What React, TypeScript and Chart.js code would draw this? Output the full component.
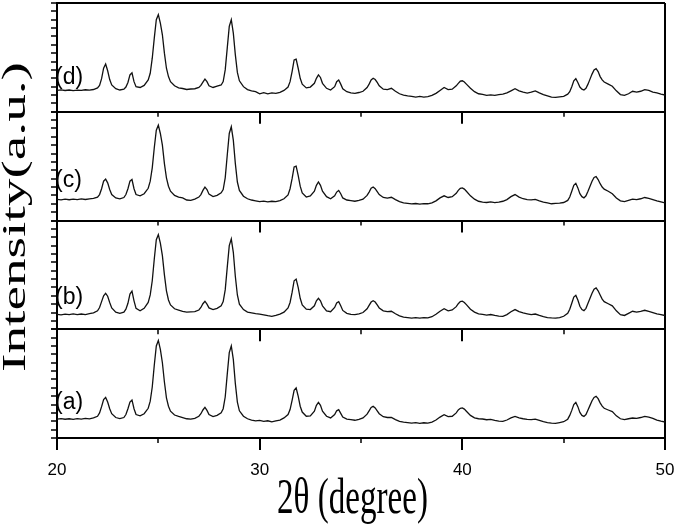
import { useEffect, useRef } from 'react';
import { Chart, registerables } from 'chart.js';

Chart.register(...registerables);

// 2θ sampling positions (degrees), shared by the four patterns
const twoTheta = [
  20.0, 20.2, 20.4, 20.6, 20.8, 21.0, 21.2, 21.4, 21.6, 21.8,
  22.0, 22.1, 22.2, 22.3, 22.4, 22.5, 22.6, 22.7, 22.9,
  23.1, 23.3, 23.4, 23.5, 23.6, 23.7, 23.8, 23.9, 24.1,
  24.3, 24.5, 24.6, 24.7, 24.8, 24.9, 25.0, 25.1, 25.2, 25.3, 25.4, 25.5, 25.6, 25.8,
  26.0, 26.2, 26.4, 26.6, 26.8, 27.0, 27.1, 27.2, 27.3, 27.4, 27.5, 27.7, 27.9,
  28.1, 28.2, 28.3, 28.4, 28.5, 28.6, 28.7, 28.8, 28.9, 29.0, 29.2, 29.4,
  29.6, 29.8, 30.0, 30.2, 30.4, 30.6, 30.8, 31.0, 31.2, 31.4,
  31.5, 31.6, 31.7, 31.8, 31.9, 32.0, 32.1, 32.3, 32.5, 32.7,
  32.8, 32.9, 33.0, 33.1, 33.3, 33.5, 33.7, 33.8, 33.9, 34.0, 34.1, 34.3,
  34.5, 34.7, 34.9, 35.1, 35.3, 35.4, 35.5, 35.6, 35.7, 35.8, 35.9, 36.1, 36.3, 36.5, 36.7, 36.9,
  37.1, 37.3, 37.5, 37.7, 37.9, 38.1, 38.3, 38.5, 38.7, 38.9, 39.1, 39.3, 39.5,
  39.7, 39.8, 39.9, 40.0, 40.1, 40.2, 40.4, 40.6, 40.8, 41.0, 41.2, 41.4, 41.6, 41.8, 42.0,
  42.2, 42.4, 42.6, 42.8, 43.0, 43.2, 43.4, 43.6, 43.8, 44.0, 44.2, 44.4, 44.6, 44.8, 45.0, 45.2,
  45.3, 45.4, 45.5, 45.6, 45.7, 45.8, 45.9, 46.0, 46.1, 46.2, 46.3, 46.4, 46.5, 46.6, 46.7, 46.8, 46.9, 47.0, 47.2, 47.4, 47.6,
  47.8, 48.0, 48.2, 48.4, 48.6, 48.8, 49.0, 49.2, 49.4, 49.6, 49.8, 50.0,
];

// Intensities (a.u., each panel on its own 0–130 scale)
const patternA = [
  22.5, 23.2, 22.4, 23.0, 22.2, 23.1, 22.6, 23.4, 22.8, 24,
  26, 30, 37.5, 46, 48.5, 43, 35, 29, 24.5,
  23.2, 24.5, 28, 35, 43, 45.5, 35, 28, 26.5,
  29, 35.5, 44, 61, 87, 110, 116.6, 106, 90, 67, 48, 38, 32, 27.5,
  25.8, 24.5, 23, 22.5, 23.5, 26, 29, 33.5, 36.6, 33, 28, 25.5, 27,
  30, 35, 49, 76, 102, 110, 94, 65, 43, 32.5, 26, 23,
  21.5, 20.5, 21, 19.8, 20.6, 19.2, 20.5, 21.5, 24, 28,
  34, 45, 57, 59.8, 50, 38, 31, 26, 26.5, 32,
  39, 42.5, 39, 32, 26, 24, 28, 32.5, 33.8, 29.5, 25, 22.5,
  21.9, 21.2, 22.3, 24, 28.5, 32.5, 36.5, 37.8, 36, 32.5, 29, 25.5, 24.5, 24.6, 22, 20,
  19, 18.5, 17.9, 18.4, 17.5, 18.2, 17.8, 19, 21.5, 25, 27.8, 25.5, 26,
  30, 33.5, 35.5, 35.9, 34.5, 32, 27, 24, 23, 22.7, 21.8, 22.3, 21, 20.2, 19.9,
  21.5, 24, 25.8, 24, 23, 22.2, 21.9, 22.5, 21, 19.5, 18.5, 17.9, 17.6, 18.5, 19.5, 22.5,
  27, 33, 40, 42.5, 37.5, 30.5, 27, 25.8, 28, 33.5, 39, 44.5, 48.5, 49.7, 47, 42, 38, 35.5, 33.5, 31.5, 26.5,
  23, 21.9, 23, 23.9, 23.5, 24.5, 25.8, 25, 23.5, 21.5, 20.2, 19.1,
];

const patternB = [
  17.8, 17.2, 18.0, 17.4, 18.3, 17.6, 18.2, 17.5, 18.6, 19.5,
  22, 26, 33, 40, 43, 39.5, 32, 25.5, 20.5,
  19, 20.5, 24, 31, 42, 45.5, 34, 25, 22,
  25, 32, 41, 58, 84, 107, 113, 103, 88, 65, 46, 35, 29, 24.5,
  23, 21.5, 20.5, 20.8, 21, 23, 26, 30.5, 33.5, 30, 25.5, 23.5, 25,
  28, 33, 47, 74, 100, 108, 92, 63, 41, 30, 23.5, 20.5,
  19.5, 18.6, 18, 17.2, 16.2, 15.5, 16.5, 18, 20.5, 25.5,
  32, 44, 58, 60, 50, 37, 29, 24, 23.5, 28,
  34, 37, 34, 28, 22, 21, 26, 31.5, 33, 28, 22.5, 19,
  17.8, 17.5, 18.5, 20, 24.5, 28.5, 32.5, 34, 32.5, 29, 25.5, 22, 21, 21.5, 18.5, 16,
  14.5, 14, 13.2, 13.8, 13.3, 14, 13.6, 15, 18, 21.5, 24.5, 22, 23,
  27, 30.5, 33, 33.5, 32, 29.5, 24, 20.5, 18.5, 17.8, 17, 17.6, 16.5, 15.8, 15.5,
  17.5, 21, 23.5, 21, 19.5, 18.5, 17.6, 18.2, 16.5, 15, 14, 13.5, 13.2, 14, 15.5, 19,
  24, 31, 38.5, 40.5, 35, 27.5, 23.5, 22.3, 25, 31, 37, 43, 48, 49.4, 46, 41, 36, 33, 30.5, 28, 22,
  17.5, 16.5, 19, 21.5, 20.5, 21.5, 22.7, 21.5, 20, 18.5, 17.5, 16.4,
];

const patternC = [
  25.2, 24.6, 25.5, 24.8, 25.6, 24.9, 25.8, 25.1, 25.9, 26.5,
  28, 31, 38, 47, 49.5, 45, 37, 31, 27,
  25.8, 27.5, 31, 38, 47, 49, 38, 31, 29.5,
  32, 38.5, 47, 63, 87, 108, 114, 104, 90, 68, 51, 41, 35, 30,
  28, 27, 24.5, 24, 25.5, 28, 31, 36, 40, 37, 31.5, 28.5, 30,
  33, 37, 51, 78, 104, 112, 96, 68, 46, 36, 29, 26,
  24.5, 23.5, 22.5, 23.2, 22.2, 23, 22.5, 23.8, 26, 30.5,
  38, 50, 64, 65, 54, 41, 33, 28, 29.5, 35,
  42, 46, 42, 35, 28.5, 26, 29.5, 34, 36, 32, 27, 24.5,
  23.8, 23, 24, 25.5, 30, 34, 38.5, 40, 38, 34.5, 31, 27.5, 26.8, 27.8, 25, 22.5,
  21, 20.5, 19.8, 20.3, 19.5, 20.2, 20, 21, 23.5, 27, 29.5, 27.5, 28.5,
  32.5, 36, 38.5, 39, 37.5, 35, 29.5, 25.5, 23, 22, 21.5, 22.2, 21.4, 22, 23,
  25, 28.5, 31, 28, 26, 25, 24.6, 25.2, 23.5, 22, 21, 20, 20.4, 20.8, 21.5, 24,
  28, 35, 42, 44.5, 39, 32, 28.5, 27, 29.5, 35, 41, 47, 51.5, 52.5, 49, 44, 40, 37.5, 35, 32, 27,
  23.5, 22.5, 24, 25.5, 25, 26, 27.5, 26.5, 25, 23.5, 22.2, 21,
];

const patternD = [
  25.5, 26.2, 25.4, 26.0, 25.3, 25.9, 25.6, 26.3, 25.8, 26.6,
  28.5, 31.5, 39.5, 52, 57, 49, 38.5, 32, 27.5,
  26.0, 27.0, 29.5, 35, 44, 46.5, 36, 30, 29,
  31.5, 38, 46, 64, 88, 110, 116, 106, 92, 70, 52, 42, 36, 31,
  28.5, 27.8, 26.6, 27.2, 27.5, 29, 31.5, 35.5, 39, 36, 31, 29, 30.5,
  32, 36, 50, 76, 102, 110, 94, 68, 47, 37, 30, 26.5,
  25, 24, 21.5, 22.8, 21.5, 22.6, 22.0, 23.2, 25.5, 29.5,
  36, 48, 62, 63, 52, 40, 33, 28.5, 29.5, 34,
  40, 44, 41, 34, 28, 26, 30, 36, 38, 33, 27.5, 24,
  22.5, 22, 23, 24.5, 29, 33, 38, 40, 38.5, 35, 31, 27, 26.5, 28, 24.5, 21.5,
  20, 19, 18.5, 17.6, 18.3, 17.5, 18.2, 19.5, 22, 25.5, 29, 26.5, 27,
  31, 34, 36.5, 37, 35.5, 33, 28, 24, 21.5, 20.8, 19.5, 20.2, 19.6, 20.5, 21,
  22.5, 25, 27.5, 25, 23.5, 22.4, 23.5, 25, 22.5, 20.5, 19, 17.5, 17.2, 17.8, 18.5, 21,
  24, 30, 37, 39.5, 35, 29.5, 27, 26, 28, 33, 39, 45, 50, 51.5, 48, 42, 38, 35.5, 33, 30.5, 25,
  20.5, 19.5, 21.5, 24.5, 23.5, 24.5, 26.5, 25.5, 23.5, 22.5, 21, 20,
];

const panelNames = ['(a)', '(b)', '(c)', '(d)'];
const panelLabelLevel = [35, 30, 40.6, 33.5];
const xMajorInner = [30, 40];
const xMinor = [25, 35, 45];
const xTitle = '2θ (degree)';
const yTitle = 'Intensity(a.u.)';

const axisIds = ['yA', 'yB', 'yC', 'yD'];

export default function App() {
  const ref = useRef<HTMLCanvasElement | null>(null);

  useEffect(() => {
    const canvas = ref.current;
    if (!canvas) return;
    const series = [patternA, patternB, patternC, patternD];

    const datasets = series.map((s, i) => ({
      label: panelNames[i],
      data: twoTheta.map((x, k) => ({ x, y: s[k] })),
      yAxisID: axisIds[i],
      borderColor: '#111',
      borderWidth: 1.3,
      pointRadius: 0,
      tension: 0,
      fill: false,
    }));

    const yScale = (i: number) => ({
      type: 'linear',
      position: 'left',
      stack: 'xrd',
      stackWeight: 1,
      min: 0,
      max: 130,
      ticks: { display: false, stepSize: 10 },
      grid: {
        drawOnChartArea: true,
        color: (c: any) =>
          c.tick && (c.tick.value === 0 || (i === 3 && c.tick.value === 130)) ? '#000' : 'rgba(0,0,0,0)',
        lineWidth: 2,
        tickColor: '#000',
        tickLength: 6,
        tickWidth: 1.5,
      },
      border: { display: true, color: '#000', width: 2 },
    });

    const scales: any = {
      x: {
        type: 'linear',
        position: 'bottom',
        min: 20,
        max: 50,
        afterFit: (s: any) => {
          s.height = 87;
          s.paddingLeft = 0;
          s.paddingRight = 0;
        },
        ticks: {
          stepSize: 10,
          color: '#000',
          font: { family: "'Liberation Sans', Arial, sans-serif", size: 17 },
          padding: 10,
          maxRotation: 0,
          autoSkip: false,
        },
        grid: {
          drawOnChartArea: true,
          color: (c: any) => (c.tick && c.tick.value === 50 ? '#000' : 'rgba(0,0,0,0)'),
          lineWidth: 2,
          tickColor: '#000',
          tickLength: 12,
          tickWidth: 2,
        },
        border: { display: true, color: '#000', width: 2 },
      },
    };
    axisIds.forEach((id, i) => {
      scales[id] = yScale(i);
    });

    const extraTicks = {
      id: 'extraTicks',
      afterDraw(chart: any) {
        const { ctx } = chart;
        const xs = chart.scales.x;
        ctx.save();
        ctx.strokeStyle = '#000';
        axisIds.forEach((id) => {
          const yb = chart.scales[id].bottom;
          ctx.lineWidth = 1.5;
          xMinor.forEach((v) => {
            const px = Math.round(xs.getPixelForValue(v));
            ctx.beginPath();
            ctx.moveTo(px, yb);
            ctx.lineTo(px, yb + 5);
            ctx.stroke();
          });
          if (id !== 'yA') {
            ctx.lineWidth = 2;
            xMajorInner.forEach((v) => {
              const px = Math.round(xs.getPixelForValue(v));
              ctx.beginPath();
              ctx.moveTo(px, yb);
              ctx.lineTo(px, yb + 12);
              ctx.stroke();
            });
          }
        });
        ctx.restore();
      },
    };

    const texts = {
      id: 'texts',
      afterDraw(chart: any) {
        const { ctx, chartArea } = chart;
        const xs = chart.scales.x;
        ctx.save();
        ctx.fillStyle = '#000';
        // panel labels
        ctx.font = "23px 'Liberation Sans', Arial, sans-serif";
        ctx.textAlign = 'left';
        ctx.textBaseline = 'alphabetic';
        axisIds.forEach((id, i) => {
          const ys = chart.scales[id];
          ctx.fillText(panelNames[i], xs.left - 2, ys.getPixelForValue(panelLabelLevel[i]));
        });
        // x title (tall serif)
        ctx.font = "50px 'Liberation Serif', 'Times New Roman', serif";
        const wx = ctx.measureText(xTitle).width;
        ctx.save();
        ctx.translate((chartArea.left + chartArea.right) / 2 - 8.5, chart.height - 12);
        ctx.scale(151 / wx, 1);
        ctx.textAlign = 'center';
        ctx.fillText(xTitle, 0, 0);
        ctx.restore();
        // y title (rotated, stretched along its length)
        ctx.font = "33px 'Liberation Serif', 'Times New Roman', serif";
        const wy = ctx.measureText(yTitle).width;
        ctx.save();
        ctx.translate(25, (chartArea.top + chartArea.bottom) / 2 - 3.5);
        ctx.rotate(-Math.PI / 2);
        ctx.scale(310 / wy, 1);
        ctx.textAlign = 'center';
        ctx.fillText(yTitle, 0, 0);
        ctx.restore();
        ctx.restore();
      },
    };

    const chart = new Chart(canvas, {
      type: 'line',
      data: { datasets } as any,
      options: {
        animation: false,
        responsive: true,
        maintainAspectRatio: false,
        layout: { padding: { left: 51, right: 10, top: 3, bottom: 0 } },
        plugins: { legend: { display: false }, tooltip: { enabled: false }, title: { display: false } },
        scales,
      } as any,
      plugins: [extraTicks, texts],
    });
    return () => chart.destroy();
  }, []);

  return (
    <div style={{ position: 'fixed', left: 0, top: 0, width: 675, height: 525, background: '#fff' }}>
      <canvas ref={ref} />
    </div>
  );
}
